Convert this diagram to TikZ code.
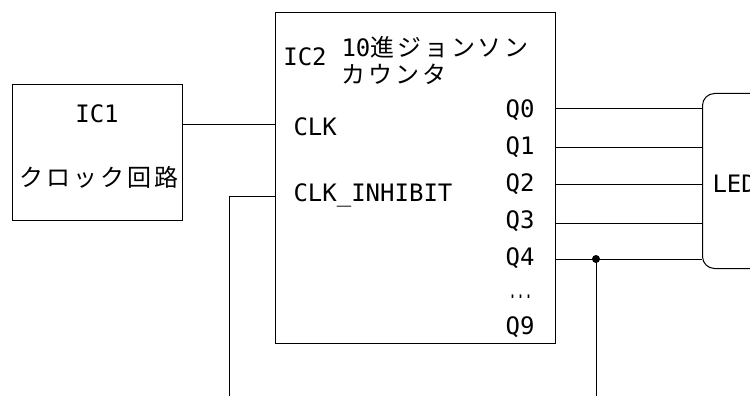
\documentclass[tikz,border=0pt]{standalone}
\usepackage{fontspec}
\newfontfamily\lat{DejaVu Sans Mono}
\newfontfamily\cjk[LetterSpace=12]{Noto Sans CJK JP}
\begin{document}
\begin{tikzpicture}[x=1pt,y=-1pt,line width=1pt,
  box/.style={draw,rectangle,inner sep=0pt,anchor=north west},
  lbl/.style={inner sep=0pt,font=\lat\fontsize{24}{26}\selectfont},
  jlbl/.style={inner sep=0pt,font=\cjk\fontsize{24}{27}\selectfont},
  wire/.style={draw,line width=1pt}]
\useasboundingbox (0,0) rectangle (750,396);
\clip (0,0) rectangle (750,396);
% boxes
\node[box,minimum width=170pt,minimum height=136pt] (ic1) at (12,84) {};
\node[box,minimum width=280pt,minimum height=331pt] (ic2) at (275,12) {};
\node[box,rounded corners=12pt,minimum width=100pt,minimum height=175pt] (led) at (702,93) {};
% pins
\coordinate (clkpin) at (275,124);
\coordinate (inhpin) at (275,196);
\coordinate (inhend) at (229,396);
\coordinate (q0) at (555,108);
\coordinate (q1) at (555,147);
\coordinate (q2) at (555,184);
\coordinate (q3) at (555,223);
\coordinate (q4) at (555,259);
\coordinate (dot) at (596,259);
\coordinate (dotend) at (596,396);
% wires
\draw[wire] (ic1.east |- clkpin) -- (clkpin);
\draw[wire] (inhpin) -| (inhend);
\foreach \q in {q0,q1,q2,q3,q4}{\draw[wire] (\q) -- (\q -| led.west);}
\fill (dot) circle (4pt);
\draw[wire] (dot) -- (dotend);
% texts
\node[lbl] (tic1) at (97,114) {IC1};
\node[jlbl] (tclock) at (99,177) {クロック回路};
\node[lbl] (tic2) at (305,57) {IC2};
\node[jlbl,anchor=west,align=left] (tname) at (341,60) {{\lat 10}進ジョンソン\\カウンタ};
\node[lbl,anchor=west] (tclk) at (293,127) {CLK};
\node[lbl,anchor=west] (tinh) at (293,195) {CLK\_INHIBIT};
\node[lbl,anchor=east] (tq0) at (535,110) {Q0};
\node[lbl,anchor=east] (tq1) at (535,147) {Q1};
\node[lbl,anchor=east] (tq2) at (535,184) {Q2};
\node[lbl,anchor=east] (tq3) at (535,221) {Q3};
\node[lbl,anchor=east] (tq4) at (535,258) {Q4};
\node[lbl,anchor=east] (tdots) at (533,297) {\scalebox{0.55}[1]{...}};
\node[lbl,anchor=east] (tq9) at (535,327) {Q9};
\node[lbl,anchor=west] (tled) at (712,184) {LED};
\end{tikzpicture}
\end{document}
